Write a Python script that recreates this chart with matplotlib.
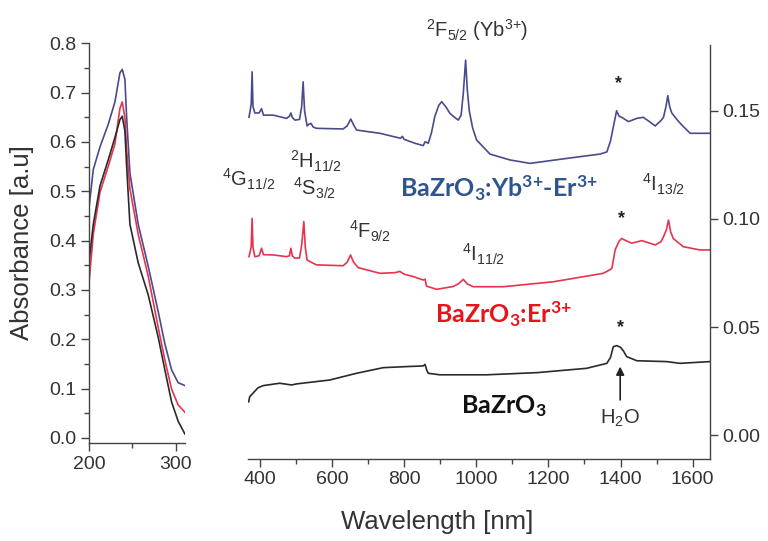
import matplotlib.pyplot as plt
from matplotlib.ticker import MultipleLocator, FormatStrFormatter

plt.rcParams['font.family'] = ['Liberation Sans', 'DejaVu Sans']
plt.rcParams['mathtext.default'] = 'regular'

# UV part (left panel)
uv_nm = [200, 204.6, 212.4, 222, 229.7, 235.5, 238.2, 241.3, 243.3, 247.1,
         256.7, 268.3, 279.9, 287.6, 295.4, 303, 310.8]
uv_yb_er = [0.472, 0.544, 0.590, 0.636, 0.681, 0.740, 0.747, 0.727, 0.649, 0.537,
            0.433, 0.348, 0.256, 0.191, 0.138, 0.112, 0.106]
uv_er = [0.322, 0.413, 0.498, 0.551, 0.596, 0.668, 0.681, 0.649, 0.583, 0.505,
         0.413, 0.328, 0.224, 0.158, 0.099, 0.067, 0.052]
uv_pure = [0.361, 0.433, 0.511, 0.564, 0.609, 0.645, 0.652, 0.622, 0.550, 0.433,
           0.355, 0.290, 0.204, 0.138, 0.073, 0.034, 0.008]

# Vis-NIR part (right panel)
nir_nm_yb_er = [370, 376, 378.6, 381, 386, 398, 404.7, 410, 437, 474, 482, 486, 490, 497,
                510, 516, 520, 524, 531, 536, 541.5, 548, 557, 631, 642, 652, 660, 668,
                733, 790, 795, 800, 830, 853, 858, 867, 876, 885, 896, 904, 915, 927, 940,
                950, 958, 964, 970.5, 975, 980.6, 990, 1001, 1038, 1093, 1149, 1251, 1343,
                1362, 1372, 1380, 1389, 1396, 1403, 1422, 1445, 1463, 1480, 1496, 1512,
                1519, 1526, 1531, 1536, 1542, 1556, 1570, 1593, 1648]
nir_yb_er = [0.147, 0.153, 0.168, 0.152, 0.149, 0.149, 0.151, 0.148, 0.148, 0.1465, 0.1475,
             0.149, 0.147, 0.1457, 0.146, 0.152, 0.1634, 0.150, 0.143, 0.1438, 0.1442,
             0.1425, 0.1419, 0.1416, 0.143, 0.1462, 0.1435, 0.1411, 0.1396, 0.1373, 0.1382,
             0.1368, 0.135, 0.1339, 0.1357, 0.135, 0.140, 0.1473, 0.1525, 0.1542, 0.152,
             0.1488, 0.147, 0.1457, 0.148, 0.158, 0.1734, 0.160, 0.150, 0.142, 0.1365,
             0.130, 0.1273, 0.1257, 0.128, 0.130, 0.131, 0.136, 0.1426, 0.150, 0.1475,
             0.147, 0.145, 0.1465, 0.147, 0.145, 0.143, 0.1455, 0.147, 0.152, 0.157,
             0.152, 0.149, 0.146, 0.1434, 0.1396, 0.1396]

nir_nm_er = [370, 376, 378.6, 381, 386, 398, 404.7, 410, 437, 474, 482, 486, 490, 497,
             510, 516, 522, 526, 531, 557, 631, 642, 651.5, 660, 673, 733, 775, 788, 800,
             825, 853, 858, 862, 890, 936, 950, 964, 975, 992, 1075, 1214, 1352, 1370,
             1376, 1385, 1395, 1403, 1415, 1431, 1459, 1496, 1512, 1519, 1527, 1533, 1539,
             1546, 1574, 1620, 1648]
nir_er = [0.0826, 0.087, 0.1003, 0.087, 0.0826, 0.083, 0.0865, 0.0835, 0.0834, 0.0826,
          0.083, 0.0865, 0.083, 0.0819, 0.082, 0.088, 0.0988, 0.087, 0.081, 0.0788, 0.0784,
          0.080, 0.0834, 0.080, 0.0775, 0.0749, 0.0752, 0.0758, 0.0745, 0.0734, 0.0718,
          0.0722, 0.0690, 0.0675, 0.0688, 0.070, 0.0721, 0.0700, 0.0687, 0.0687, 0.0710,
          0.0749, 0.0765, 0.0772, 0.0857, 0.0895, 0.0910, 0.0900, 0.0888, 0.0900, 0.0880,
          0.0895, 0.0918, 0.095, 0.0995, 0.094, 0.091, 0.0872, 0.0857, 0.0857]

nir_nm_pure = [369, 372, 381, 395, 409, 455, 488, 502, 594, 668, 742, 807, 853, 858, 863,
               867, 899, 1029, 1168, 1306, 1362, 1372, 1380, 1389, 1400, 1408, 1417, 1445,
               1528, 1565, 1648]
nir_pure = [0.0155, 0.0179, 0.0195, 0.022, 0.023, 0.0241, 0.0233, 0.0238, 0.0256, 0.0287,
            0.0313, 0.0318, 0.0321, 0.0328, 0.030, 0.0287, 0.028, 0.028, 0.029, 0.031,
            0.0333, 0.036, 0.041, 0.0415, 0.0407, 0.039, 0.0364, 0.0345, 0.0341, 0.0333,
            0.0341]

# transition labels: (text, x, y)
transitions = [
    (r'$^{2}$F$_{5/2}$ (Yb$^{3{+}}$)', 1002, 0.184),
    (r'$^{4}$G$_{11/2}$', 295, 0.1148),
    (r'$^{2}$H$_{11/2}$', 483, 0.1234),
    (r'$^{4}$S$_{3/2}$', 492, 0.111),
    (r'$^{4}$F$_{9/2}$', 647, 0.0911),
    (r'$^{4}$I$_{11/2}$', 961, 0.0803),
    (r'$^{4}$I$_{13/2}$', 1459, 0.1126),
]
star_x = [1394, 1403, 1399]
star_y = [0.1626, 0.1003, 0.0498]

c_blue = '#4a4a8e'
c_red = '#e6334f'
c_black = '#2a2a2a'
axis_col = '#444444'
text_col = '#333333'

fig = plt.figure(figsize=(7.68, 5.41), dpi=100)
ax1 = fig.add_axes([0.1163, 0.1806, 0.1246, 0.7394])
ax2 = fig.add_axes([0.3233, 0.1516, 0.6012, 0.7652])

ax1.plot(uv_nm, uv_yb_er, color=c_blue, lw=1.2)
ax1.plot(uv_nm, uv_er, color=c_red, lw=1.2)
ax1.plot(uv_nm, uv_pure, color=c_black, lw=1.2)
ax1.set_xlim(200, 311)
ax1.set_ylim(-0.011, 0.8)
ax1.set_xticks([200, 300])
ax1.xaxis.set_minor_locator(MultipleLocator(50))
ax1.yaxis.set_major_locator(MultipleLocator(0.1))
ax1.yaxis.set_minor_locator(MultipleLocator(0.05))
ax1.yaxis.set_major_formatter(FormatStrFormatter('%.1f'))
for s in ['top', 'right']:
    ax1.spines[s].set_visible(False)

ax2.plot(nir_nm_yb_er, nir_yb_er, color=c_blue, lw=1.2)
ax2.plot(nir_nm_er, nir_er, color=c_red, lw=1.2)
ax2.plot(nir_nm_pure, nir_pure, color=c_black, lw=1.2)
ax2.set_xlim(368, 1648)
ax2.set_ylim(-0.0109, 0.1804)
ax2.set_xticks(range(400, 1601, 200))
ax2.xaxis.set_minor_locator(MultipleLocator(100))
ax2.set_yticks([0, 0.05, 0.10, 0.15])
ax2.yaxis.set_major_formatter(FormatStrFormatter('%.2f'))
ax2.yaxis.tick_right()
for s in ['top', 'left']:
    ax2.spines[s].set_visible(False)

for ax in (ax1, ax2):
    for s in ax.spines.values():
        s.set_color(axis_col)
        s.set_linewidth(1.0)
    ax.tick_params(which='major', direction='out', length=6, width=1, color=axis_col,
                   labelcolor=text_col, labelsize=14, pad=3)
    ax.tick_params(which='minor', direction='out', length=3.5, width=1, color=axis_col)

for txt, x, y in transitions:
    ax2.text(x, y, txt, fontsize=14.5, color=text_col, ha='left', va='baseline')
ax2.texts[0].set_ha('center')

for x, y in zip(star_x, star_y):
    ax2.text(x, y, '*', fontsize=13, color='#222222', ha='center', va='center',
             fontweight='bold')

ax2.text(788, 0.1103, r'BaZrO$_3$:Yb$^{3{+}}$-Er$^{3{+}}$', fontsize=18, family='Lato',
         fontweight='bold', color='#2f5590', va='baseline')
ax2.text(885, 0.0518, r'BaZrO$_3$:Er$^{3{+}}$', fontsize=18, family='Lato',
         fontweight='bold', color='#e8141c', va='baseline')
ax2.text(959, 0.0103, r'BaZrO$_3$', fontsize=18, family='Lato',
         fontweight='bold', color='#111111', va='baseline')
ax2.text(1343, 0.0053, r'H$_2$O', fontsize=14.5, color=text_col, va='baseline')
ax2.annotate('', xy=(1399, 0.0318), xytext=(1399, 0.0164),
             arrowprops=dict(arrowstyle='-|>', color='#222222', lw=1.2,
                             mutation_scale=12, shrinkA=0, shrinkB=0))

fig.text(437.5 / 768, 1 - 529 / 541, 'Wavelength [nm]', fontsize=18.5, color=text_col,
         ha='center', va='baseline')
fig.text(21.7 / 768, 1 - 243 / 541, 'Absorbance [a.u]', fontsize=18.5, color=text_col,
         ha='center', va='center', rotation=90)

fig.savefig('out.png', dpi=100)
